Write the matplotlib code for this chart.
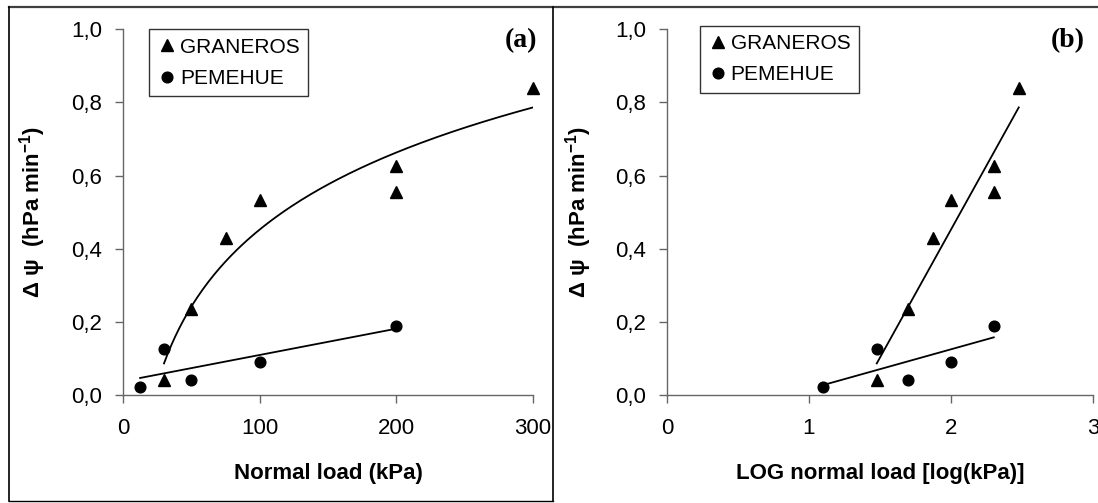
'''
two-panel chart: soil air permeability change vs normal load,
linear load (a) and log load (b), with Excel-style trend lines
'''

import numpy as np
import matplotlib
matplotlib.use("Agg")
import matplotlib.pyplot as plt
from matplotlib.lines import Line2D

plt.rcParams['font.family'] = ['Liberation Sans', 'DejaVu Sans']
plt.rcParams['mathtext.fontset'] = 'custom'
plt.rcParams['mathtext.rm'] = 'Liberation Sans:bold'
plt.rcParams['mathtext.bf'] = 'Liberation Sans:bold'
plt.rcParams['mathtext.default'] = 'bf'

# DATA
GRANEROS_LOAD = [30, 50, 75, 100, 200, 200, 300]
GRANEROS_DPSI = [0.04, 0.235, 0.43, 0.532, 0.626, 0.555, 0.84]
PEMEHUE_LOAD = [12.5, 30, 50, 100, 200]
PEMEHUE_DPSI = [0.021, 0.126, 0.042, 0.091, 0.19]

Y_TICKS = [0.0, 0.2, 0.4, 0.6, 0.8, 1.0]
X_TICKS_A = [0, 100, 200, 300]
X_TICKS_B = [0, 1, 2, 3]

SPINE_COLOR = "#666666"
W, H = 1098, 503


def comma(v):
    return f"{v:.1f}".replace(".", ",")


def style_axes(ax, xticks):
    ax.spines[["top", "right"]].set_visible(False)
    for s in ("left", "bottom"):
        ax.spines[s].set_color(SPINE_COLOR)
        ax.spines[s].set_linewidth(1.0)
    ax.set_ylim(0, 1.0)
    ax.set_xlim(xticks[0], xticks[-1])
    ax.set_yticks(Y_TICKS, labels=[comma(v) for v in Y_TICKS])
    ax.set_xticks(xticks, labels=[str(v) for v in xticks])
    ax.tick_params(axis="both", direction="out", length=5.5, width=1.0,
                   color=SPINE_COLOR, labelsize=16)
    ax.tick_params(axis="x", pad=11)
    ax.tick_params(axis="y", pad=9.5)


def draw_panel(ax, gx, gy, px, py, g_fit_x, tag, tag_x, leg_x, leg_y):
    ax.plot(gx, gy, linestyle="none", marker="^", ms=9, color="black",
            clip_on=False, zorder=4, label="GRANEROS")
    ax.plot(px, py, linestyle="none", marker="o", ms=7.7, color="black",
            clip_on=False, zorder=4, label="PEMEHUE")

    # trend lines (least squares, like the spreadsheet does)
    gfx, gcoef = g_fit_x
    xs = np.linspace(min(gx), max(gx), 200)
    ax.plot(xs, np.polyval(gcoef, gfx(xs)), color="black", lw=1.3, zorder=3)
    pcoef = np.polyfit(px, py, 1)
    xs = np.linspace(min(px), max(px), 50)
    ax.plot(xs, np.polyval(pcoef, xs), color="black", lw=1.3, zorder=3)

    leg = ax.legend(loc="upper left", bbox_to_anchor=(leg_x, leg_y),
                    numpoints=1, fancybox=False, framealpha=1,
                    edgecolor="#333333", borderpad=0.4, labelspacing=0.6,
                    handlelength=0.95, handletextpad=0.15, borderaxespad=0,
                    prop={"size": 15})
    leg.get_frame().set_linewidth(1.0)

    ax.text(tag_x, 0.97, tag, transform=ax.transAxes, ha="right", va="center",
            fontsize=20, fontweight="bold", family="Liberation Serif")
    ax.set_ylabel(r"Δ ψ  (hPa min$^{-1}$)", fontsize=16, fontweight="bold")


def main():
    fig = plt.figure(figsize=(W / 100, H / 100), dpi=100)
    bottom = 1 - 395 / H
    height = (395 - 29.3) / H
    ax1 = fig.add_axes([123 / W, bottom, 410 / W, height])
    ax2 = fig.add_axes([667 / W, bottom, 426 / W, height])

    # (a) linear load, log trend for graneros
    g_log = np.polyfit(np.log(GRANEROS_LOAD), GRANEROS_DPSI, 1)
    draw_panel(ax1, GRANEROS_LOAD, GRANEROS_DPSI, PEMEHUE_LOAD, PEMEHUE_DPSI,
               (np.log, g_log), "(a)", 1.01, 26 / 410, 1.0)
    style_axes(ax1, X_TICKS_A)
    ax1.set_xlabel("Normal load (kPa)", fontsize=16, fontweight="bold")
    ax1.xaxis.set_label_coords(0.5, -0.185)
    ax1.yaxis.set_label_coords(-0.183, 0.5)

    # (b) log10 load, linear trends
    glx = np.log10(GRANEROS_LOAD)
    plx = np.log10(PEMEHUE_LOAD)
    g_lin = np.polyfit(glx, GRANEROS_DPSI, 1)
    draw_panel(ax2, glx, GRANEROS_DPSI, plx, PEMEHUE_DPSI,
               (lambda v: v, g_lin), "(b)", 0.981, 32.5 / 426, 1.01)
    style_axes(ax2, X_TICKS_B)
    ax2.set_xlabel("LOG normal load [log(kPa)]", fontsize=16, fontweight="bold")
    ax2.xaxis.set_label_coords(0.5, -0.185)
    ax2.yaxis.set_label_coords(-0.171, 0.5)

    # panel frames
    tf = fig.transFigure
    x_l, x_m = 9 / W, 553 / W
    y_t, y_b = 1 - 7 / H, 1 - 501 / H
    fig.add_artist(Line2D([x_l, 1], [y_t, y_t], color="#404040", lw=1.6, transform=tf))
    fig.add_artist(Line2D([x_l, x_l], [y_b, y_t], color="black", lw=1.2, transform=tf))
    fig.add_artist(Line2D([x_m, x_m], [y_b, y_t], color="black", lw=1.2, transform=tf))
    fig.add_artist(Line2D([x_l, x_m], [y_b, y_b], color="black", lw=1.0, transform=tf))

    fig.savefig("out.png", dpi=100)


if __name__ == "__main__":
    main()
